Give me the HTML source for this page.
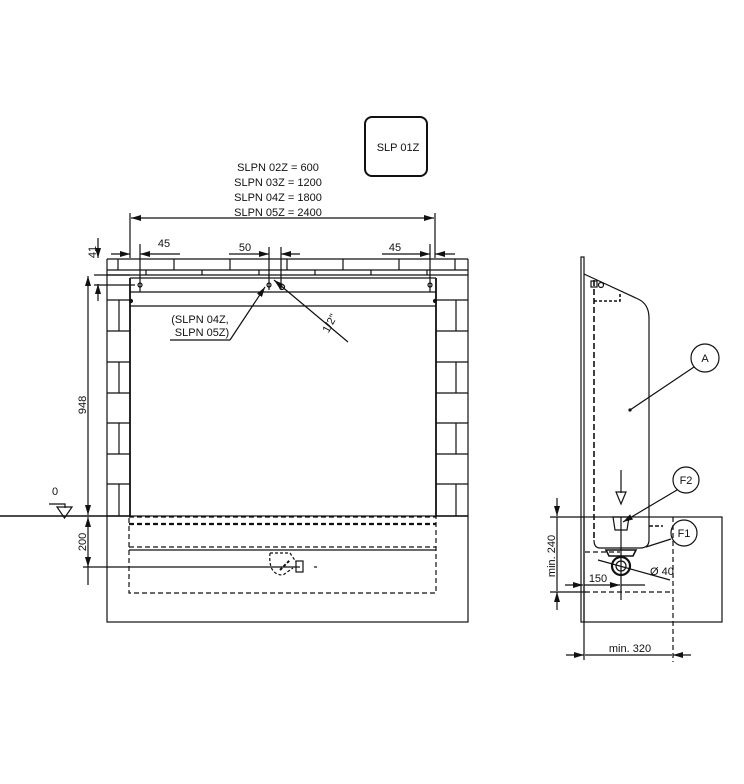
<!DOCTYPE html>
<html><head><meta charset="utf-8"><style>
html,body{margin:0;padding:0;background:#fff;}
svg{display:block;}
text{font-family:"Liberation Sans",sans-serif;fill:#111;}
</style></head><body>
<svg width="744" height="784" viewBox="0 0 744 784" xmlns="http://www.w3.org/2000/svg">
<defs>
<marker id="ar" viewBox="0 0 10 6" refX="10" refY="3" markerWidth="10" markerHeight="6" orient="auto-start-reverse" markerUnits="userSpaceOnUse"><path d="M0,0 L10,3 L0,6 z" fill="#111"/></marker>
</defs>
<g stroke="#111" fill="none" stroke-width="1.2">
<rect x="365" y="117" width="62" height="59" rx="7" stroke-width="2"/>
<line x1="130" y1="213" x2="130" y2="258"/>
<line x1="435" y1="213" x2="435" y2="258"/>
<line x1="131" y1="218" x2="434" y2="218" marker-start="url(#ar)" marker-end="url(#ar)"/>
<line x1="111" y1="254" x2="130" y2="254" marker-end="url(#ar)"/>
<line x1="140" y1="254" x2="180" y2="254" marker-start="url(#ar)"/>
<line x1="140" y1="244" x2="140" y2="292"/>
<line x1="430" y1="244" x2="430" y2="292"/>
<line x1="382" y1="254" x2="430" y2="254" marker-end="url(#ar)"/>
<line x1="435" y1="254" x2="455" y2="254" marker-start="url(#ar)"/>
<line x1="229" y1="254" x2="269" y2="254" marker-end="url(#ar)"/>
<line x1="281" y1="254" x2="300" y2="254" marker-start="url(#ar)"/>
<line x1="269" y1="247" x2="269" y2="290"/>
<line x1="281" y1="247" x2="281" y2="290"/>
<line x1="98" y1="238" x2="98" y2="258" marker-end="url(#ar)"/>
<line x1="98" y1="284" x2="98" y2="301" marker-start="url(#ar)"/>
<line x1="94" y1="275" x2="130" y2="275"/>
<line x1="94" y1="285" x2="135" y2="285"/>
<line x1="107" y1="259" x2="468" y2="259"/>
<line x1="107" y1="270" x2="468" y2="270"/>
<line x1="107" y1="275" x2="468" y2="275"/>
<line x1="107" y1="259" x2="107" y2="516"/>
<line x1="468" y1="259" x2="468" y2="516"/>
<line x1="118" y1="259" x2="118" y2="270"/>
<line x1="174" y1="259" x2="174" y2="270"/><line x1="230" y1="259" x2="230" y2="270"/>
<line x1="287" y1="259" x2="287" y2="270"/><line x1="343" y1="259" x2="343" y2="270"/>
<line x1="399" y1="259" x2="399" y2="270"/><line x1="455" y1="259" x2="455" y2="270"/>
<line x1="146" y1="270" x2="146" y2="275"/><line x1="202" y1="270" x2="202" y2="275"/>
<line x1="259" y1="270" x2="259" y2="275"/><line x1="315" y1="270" x2="315" y2="275"/>
<line x1="371" y1="270" x2="371" y2="275"/><line x1="427" y1="270" x2="427" y2="275"/>
<line x1="130" y1="278" x2="130" y2="516" stroke-width="1.8"/>
<line x1="436" y1="278" x2="436" y2="516" stroke-width="1.8"/>
<line x1="130" y1="278" x2="436" y2="278"/>
<line x1="130" y1="292" x2="436" y2="292"/>
<line x1="130" y1="306" x2="436" y2="306"/>
<circle cx="140" cy="285" r="2"/><circle cx="269" cy="285" r="2"/><circle cx="430" cy="285" r="2"/>
<circle cx="282" cy="287" r="2.5"/>
<circle cx="131" cy="301" r="1.5" fill="#111"/><circle cx="435" cy="301" r="1.5" fill="#111"/>
<line x1="107" y1="300" x2="130" y2="300"/><line x1="107" y1="331" x2="130" y2="331"/>
<line x1="107" y1="362" x2="130" y2="362"/><line x1="107" y1="393" x2="130" y2="393"/>
<line x1="107" y1="423" x2="130" y2="423"/><line x1="107" y1="454" x2="130" y2="454"/>
<line x1="107" y1="484" x2="130" y2="484"/>
<line x1="119" y1="300" x2="119" y2="331"/><line x1="119" y1="362" x2="119" y2="393"/>
<line x1="119" y1="423" x2="119" y2="454"/><line x1="119" y1="484" x2="119" y2="516"/>
<line x1="436" y1="300" x2="468" y2="300"/><line x1="436" y1="331" x2="468" y2="331"/>
<line x1="436" y1="362" x2="468" y2="362"/><line x1="436" y1="393" x2="468" y2="393"/>
<line x1="436" y1="423" x2="468" y2="423"/><line x1="436" y1="454" x2="468" y2="454"/>
<line x1="436" y1="484" x2="468" y2="484"/>
<line x1="456" y1="300" x2="456" y2="331"/><line x1="456" y1="362" x2="456" y2="393"/>
<line x1="456" y1="423" x2="456" y2="454"/><line x1="456" y1="484" x2="456" y2="516"/>
<line x1="265" y1="287" x2="230" y2="340" marker-start="url(#ar)"/>
<line x1="170" y1="340" x2="230" y2="340"/>
<line x1="274" y1="280" x2="348" y2="342" marker-start="url(#ar)"/>
<line x1="0" y1="516" x2="130" y2="516" stroke-width="1.4"/>
<line x1="436" y1="516" x2="468" y2="516" stroke-width="1.4"/>
<polyline points="49,504 65,504 65,508"/>
<path d="M57,507 L72,507 L64.5,518 z"/>
<line x1="88" y1="276" x2="88" y2="515" marker-start="url(#ar)" marker-end="url(#ar)"/>
<line x1="88" y1="517" x2="88" y2="567" marker-start="url(#ar)" marker-end="url(#ar)"/>
<line x1="88" y1="567" x2="88" y2="585"/>
<line x1="83" y1="567" x2="300" y2="567"/>
<rect x="107" y="516" width="361" height="106"/>
<rect x="129" y="517" width="307" height="76" stroke-dasharray="5,3"/>
<line x1="129" y1="524" x2="436" y2="524" stroke-dasharray="5,3" stroke-width="2.2"/>
<line x1="129" y1="547" x2="436" y2="547" stroke-dasharray="5,3"/>
<line x1="129" y1="550" x2="436" y2="550"/>
<path d="M270,553 Q268,575 283,575 L293,568" stroke-dasharray="3,2"/>
<path d="M270,553 L290,553 L296,562" stroke-dasharray="3,2"/>
<rect x="296" y="561" width="7" height="11"/>
<line x1="280" y1="570" x2="290" y2="560" stroke-width="2" stroke-dasharray="3,2"/>
<line x1="314" y1="567" x2="317" y2="567"/>
<rect x="581" y="257" width="3" height="365"/>
<path d="M584,274 L638,299 Q649,304 649,318 L649,540 Q649,548 640,548 L600,548 Q594,548 594,540"/>
<line x1="594" y1="280" x2="594" y2="540" stroke-dasharray="6,3" stroke-width="1.6"/>
<path d="M594,301 L620,301 L620,292" stroke-dasharray="3,2" stroke-width="1.6"/>
<rect x="591" y="281" width="6" height="6"/><circle cx="601" cy="285" r="2.5"/>
<rect x="584" y="517" width="138" height="105"/>
<line x1="673" y1="517" x2="673" y2="662" stroke-dasharray="5,3"/>
<line x1="585" y1="592" x2="673" y2="592" stroke-dasharray="5,3"/>
<line x1="585" y1="552" x2="620" y2="552" stroke-dasharray="5,3"/>
<path d="M649,526 L663,526" stroke-dasharray="4,2" stroke-width="1.6"/>
<path d="M613,517 L615,530 L627,530 L629,517 z"/>
<line x1="621" y1="517" x2="621" y2="600"/>
<line x1="621" y1="470" x2="621" y2="493"/>
<path d="M616,492 L626,492 L621,504 z"/>
<circle cx="621" cy="566" r="9" stroke-width="2.2"/>
<circle cx="621" cy="566" r="5"/>
<path d="M606,550 L636,550 L633,556 L609,556 z" stroke-width="1.6"/>
<line x1="598" y1="560" x2="670" y2="580"/>
<circle cx="705" cy="358" r="14"/><line x1="694" y1="367" x2="630" y2="410"/>
<circle cx="630" cy="410" r="1" fill="#111"/>
<circle cx="686" cy="480" r="13"/><line x1="677" y1="490" x2="623" y2="522" marker-end="url(#ar)"/>
<circle cx="684" cy="533" r="13"/><line x1="671" y1="539" x2="646" y2="547"/>
<line x1="557" y1="498" x2="557" y2="516" marker-end="url(#ar)"/>
<line x1="557" y1="592" x2="557" y2="610" marker-start="url(#ar)"/>
<line x1="557" y1="517" x2="557" y2="591"/>
<line x1="550" y1="517" x2="584" y2="517"/>
<line x1="550" y1="592" x2="586" y2="592"/>
<line x1="565" y1="585" x2="583" y2="585" marker-end="url(#ar)"/>
<line x1="584" y1="585" x2="620" y2="585" marker-end="url(#ar)"/>
<line x1="621" y1="585" x2="645" y2="585"/>
<line x1="584" y1="622" x2="584" y2="660"/>
<line x1="566" y1="655" x2="584" y2="655" marker-end="url(#ar)"/>
<line x1="585" y1="655" x2="672" y2="655"/>
<line x1="673" y1="655" x2="691" y2="655" marker-start="url(#ar)"/>
</g>
<g font-size="11">
<text x="398" y="151" text-anchor="middle">SLP 01Z</text>
<text x="278" y="171" text-anchor="middle">SLPN 02Z = 600</text>
<text x="278" y="186" text-anchor="middle">SLPN 03Z = 1200</text>
<text x="278" y="201" text-anchor="middle">SLPN 04Z = 1800</text>
<text x="278" y="216" text-anchor="middle">SLPN 05Z = 2400</text>
<text x="164" y="247" text-anchor="middle">45</text>
<text x="245" y="251" text-anchor="middle">50</text>
<text x="395" y="251" text-anchor="middle">45</text>
<text transform="translate(96,252) rotate(-90)" text-anchor="middle">41</text>
<text x="200" y="323" text-anchor="middle">(SLPN 04Z,</text>
<text x="202" y="336" text-anchor="middle">SLPN 05Z)</text>
<text transform="translate(333,325) rotate(-62)" text-anchor="middle">1/2"</text>
<text transform="translate(86,405) rotate(-90)" text-anchor="middle">948</text>
<text transform="translate(86,542) rotate(-90)" text-anchor="middle">200</text>
<text x="55" y="495" text-anchor="middle">0</text>
<text x="705" y="362" text-anchor="middle">A</text>
<text x="686" y="484" text-anchor="middle">F2</text>
<text x="684" y="537" text-anchor="middle">F1</text>
<text x="650" y="575">Ø 40</text>
<text x="598" y="582" text-anchor="middle">150</text>
<text x="630" y="652" text-anchor="middle">min. 320</text>
<text transform="translate(555,556) rotate(-90)" text-anchor="middle">min. 240</text>
</g>
</svg>
</body></html>
